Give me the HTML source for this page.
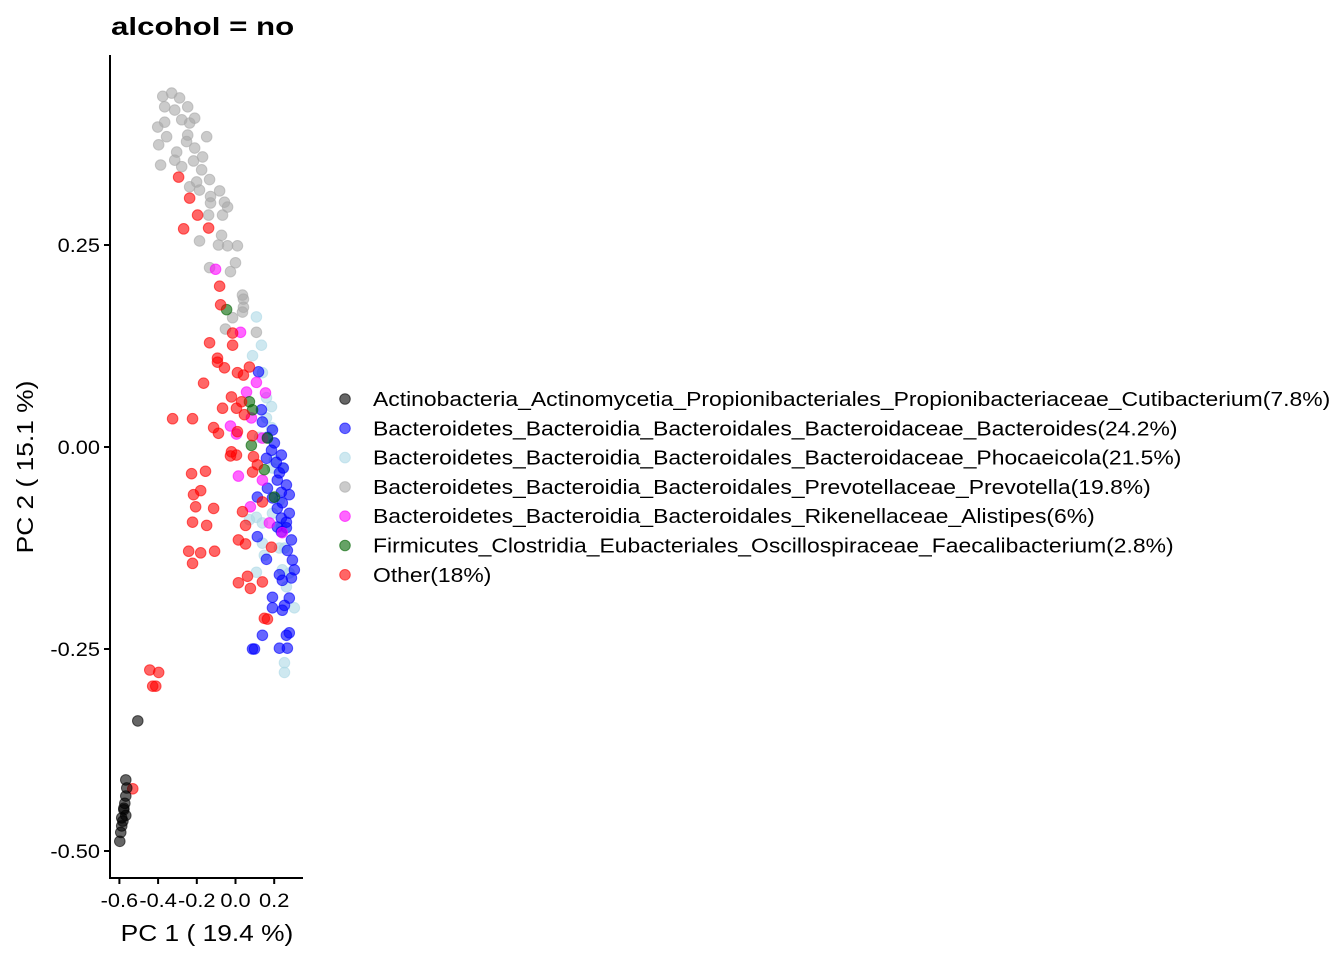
<!DOCTYPE html>
<html><head><meta charset="utf-8"><style>
body{margin:0;background:#fff;}
svg text{font-family:"Liberation Sans",Arial,sans-serif;}
</style></head><body>
<svg id="chart" width="1344" height="960" viewBox="0 0 1344 960" xmlns="http://www.w3.org/2000/svg">
<rect width="1344" height="960" fill="#fff"/>
<text class="stretch" data-w="1.25" x="111" y="35" font-size="25" font-weight="bold">alcohol = no</text>
<g id="points"></g>
<g id="axes"></g>
<g id="legend"></g>
<text class="stretch" data-w="1.145" x="207" y="941" font-size="23" text-anchor="middle">PC 1 ( 19.4 %)</text>
<text class="stretch" data-w="1.145" transform="translate(33,467) rotate(-90)" x="0" y="0" font-size="23" text-anchor="middle">PC 2 ( 15.1 %)</text>
</svg>
<script>
const xTicks=[-0.6,-0.4,-0.2,0.0,0.2];
const xTickLabels=["-0.6","-0.4","-0.2","0.0","0.2"];
const yTicks=[0.25,0.0,-0.25,-0.5];
const yTickLabels=["0.25","0.00","-0.25","-0.50"];
const legendLabels=["Actinobacteria_Actinomycetia_Propionibacteriales_Propionibacteriaceae_Cutibacterium(7.8%)","Bacteroidetes_Bacteroidia_Bacteroidales_Bacteroidaceae_Bacteroides(24.2%)","Bacteroidetes_Bacteroidia_Bacteroidales_Bacteroidaceae_Phocaeicola(21.5%)","Bacteroidetes_Bacteroidia_Bacteroidales_Prevotellaceae_Prevotella(19.8%)","Bacteroidetes_Bacteroidia_Bacteroidales_Rikenellaceae_Alistipes(6%)","Firmicutes_Clostridia_Eubacteriales_Oscillospiraceae_Faecalibacterium(2.8%)","Other(18%)"];
const groupColors=["#000000","#0000ff","#add8e6","#a9a9a9","#ff00ff","#006400","#ff0000"];
const grayX=[-0.376,-0.330,-0.289,-0.247,-0.366,-0.314,-0.402,-0.366,-0.278,-0.237,-0.211,-0.356,-0.247,-0.149,-0.397,-0.253,-0.211,-0.304,-0.170,-0.314,-0.217,-0.387,-0.278,-0.175,-0.134,-0.201,-0.237,-0.186,-0.082,-0.129,-0.129,-0.057,-0.041,-0.139,-0.067,-0.072,-0.186,-0.088,-0.041,0.010,0.0,-0.134,-0.026,0.036,0.041,0.041,0.036,-0.015,-0.052,0.108];
const grayY=[0.434,0.438,0.432,0.421,0.421,0.417,0.396,0.402,0.405,0.401,0.407,0.384,0.386,0.384,0.374,0.378,0.370,0.365,0.359,0.355,0.354,0.349,0.347,0.343,0.331,0.328,0.322,0.318,0.317,0.310,0.302,0.303,0.297,0.287,0.287,0.262,0.255,0.250,0.249,0.249,0.228,0.222,0.217,0.188,0.183,0.173,0.167,0.160,0.146,0.142];
const lblueX=[0.108,0.088,0.139,0.160,0.186,0.160,0.186,0.124,0.191,0.242,0.108,0.139,0.191,0.237,0.139,0.227,0.149,0.108,0.242,0.278,0.263,0.304,0.253,0.253,0.253,0.134,0.201,0.227,0.072];
const lblueY=[0.161,0.113,0.092,0.061,0.050,0.036,0.024,0.012,-0.026,-0.026,-0.087,-0.094,-0.082,-0.099,-0.119,-0.125,-0.134,-0.155,-0.152,-0.156,-0.173,-0.199,-0.267,-0.279,-0.125,0.126,-0.016,-0.066,-0.090];
const blueX=[0.119,0.134,0.139,0.191,0.165,0.201,0.186,0.237,0.160,0.211,0.227,0.216,0.263,0.165,0.237,0.113,0.191,0.242,0.216,0.278,0.237,0.263,0.216,0.263,0.237,0.289,0.113,0.268,0.160,0.294,0.304,0.227,0.242,0.289,0.191,0.278,0.253,0.191,0.242,0.139,0.263,0.278,0.227,0.268,0.088,0.098,0.247,0.278];
const blueY=[0.093,0.046,0.031,0.021,0.012,0.005,-0.004,-0.010,-0.014,-0.019,-0.032,-0.041,-0.047,-0.051,-0.056,-0.062,-0.063,-0.069,-0.076,-0.082,-0.088,-0.093,-0.099,-0.100,-0.105,-0.115,-0.111,-0.128,-0.139,-0.140,-0.152,-0.158,-0.165,-0.162,-0.186,-0.187,-0.196,-0.199,-0.202,-0.233,-0.233,-0.230,-0.249,-0.249,-0.250,-0.250,-0.026,-0.059];
const magentaX=[-0.103,0.026,0.108,0.057,0.155,-0.026,0.005,0.139,0.015,0.139,0.077,0.175,0.242,0.082];
const magentaY=[0.220,0.142,0.080,0.068,0.067,0.026,0.016,0.011,-0.036,-0.041,-0.074,-0.094,-0.106,0.036];
const greenX=[-0.046,0.072,0.088,0.165,0.082,0.149,0.201];
const greenY=[0.170,0.056,0.046,0.011,0.002,-0.028,-0.062];
const redX=[-0.294,-0.237,-0.196,-0.268,-0.139,-0.082,-0.077,-0.015,-0.134,-0.015,-0.093,-0.093,-0.057,0.010,0.041,0.072,-0.165,-0.021,0.031,-0.067,0.005,0.046,-0.325,-0.222,-0.113,-0.088,0.010,0.088,-0.021,0.005,-0.026,0.093,0.113,-0.227,-0.155,0.088,-0.180,-0.217,-0.206,-0.113,0.036,0.139,-0.222,-0.149,0.052,0.015,0.052,0.186,-0.242,-0.180,-0.108,-0.222,0.062,0.015,0.077,0.139,0.149,0.165,-0.443,-0.397,-0.428,-0.412,-0.531];
const redY=[0.334,0.308,0.287,0.270,0.271,0.199,0.176,0.141,0.129,0.126,0.110,0.105,0.098,0.092,0.089,0.099,0.079,0.062,0.056,0.048,0.048,0.040,0.035,0.035,0.024,0.017,0.019,0.014,-0.006,-0.010,-0.011,-0.012,-0.022,-0.033,-0.030,-0.031,-0.054,-0.059,-0.074,-0.076,-0.080,-0.068,-0.093,-0.097,-0.097,-0.115,-0.120,-0.124,-0.129,-0.131,-0.129,-0.144,-0.160,-0.168,-0.175,-0.167,-0.212,-0.213,-0.276,-0.279,-0.296,-0.296,-0.423];
const blackX=[-0.505,-0.567,-0.567,-0.572,-0.577,-0.567,-0.582,-0.588,-0.593,-0.598,-0.577,-0.588,-0.562];
const blackY=[-0.339,-0.412,-0.432,-0.441,-0.449,-0.456,-0.463,-0.469,-0.477,-0.488,-0.447,-0.459,-0.422];

const NS="http://www.w3.org/2000/svg";
function sx(v){return 235.5+v*193.5;}
function sy(v){return 447-v*808;}
const pts=document.getElementById('points');
const series=[[grayX,grayY,3],[lblueX,lblueY,2],[blueX,blueY,1],[magentaX,magentaY,4],[greenX,greenY,5],[redX,redY,6],[blackX,blackY,0]];
series.forEach(s=>{
  const xs=s[0],ys=s[1],col=groupColors[s[2]];
  for(let i=0;i<xs.length;i++){
    const c=document.createElementNS(NS,'circle');
    
    
    c.setAttribute('cx',sx(xs[i]));c.setAttribute('cy',sy(ys[i]));c.setAttribute('r',5.3);
    c.setAttribute('fill',col);c.setAttribute('fill-opacity',0.6);
    c.setAttribute('stroke',col);c.setAttribute('stroke-opacity',0.6);c.setAttribute('stroke-width',1);
    pts.appendChild(c);
  }
});
const ax=document.getElementById('axes');
function line(x1,y1,x2,y2,name){
  const l=document.createElementNS(NS,'line');
  
  
  l.setAttribute('x1',x1);l.setAttribute('y1',y1);l.setAttribute('x2',x2);l.setAttribute('y2',y2);
  l.setAttribute('stroke','#000');l.setAttribute('stroke-width',2);
  ax.appendChild(l);
}
function txt(x,y,s,anchor,size,name,parent){
  const t=document.createElementNS(NS,'text');
  
  
  t.setAttribute('x',x);t.setAttribute('y',y);t.setAttribute('font-size',size);t.setAttribute('text-anchor',anchor);
  t.setAttribute('class','stretch');
  t.textContent=s;(parent||ax).appendChild(t);
  return t;
}
line(110,55,110,879,'y-axis-line');
line(109,878,303,878,'x-axis-line');
xTicks.forEach((v,i)=>{line(sx(v),878,sx(v),884,'x-tick');txt(sx(v),907,xTickLabels[i],'middle',19,'x-tick-label');});
yTicks.forEach((v,i)=>{line(104,sy(v),110,sy(v),'y-tick');txt(100,sy(v)+7,yTickLabels[i],'end',19,'y-tick-label');});
const lg=document.getElementById('legend');
legendLabels.forEach((s,i)=>{
  const y=399+i*29.3;
  const c=document.createElementNS(NS,'circle');
  
  
  c.setAttribute('cx',345);c.setAttribute('cy',y);c.setAttribute('r',5.3);
  c.setAttribute('fill',groupColors[i]);c.setAttribute('fill-opacity',0.6);
  c.setAttribute('stroke',groupColors[i]);c.setAttribute('stroke-opacity',0.6);
  lg.appendChild(c);
  txt(373,y+7,s,'start',20,'legend-entry',lg);
});
document.querySelectorAll('text.stretch').forEach(t=>{
  const f=parseFloat(t.getAttribute('data-w')||'1.145');
  const w=t.getComputedTextLength();
  t.setAttribute('textLength',(w*f).toFixed(1));
  t.setAttribute('lengthAdjust','spacingAndGlyphs');
});
</script>
</body></html>
